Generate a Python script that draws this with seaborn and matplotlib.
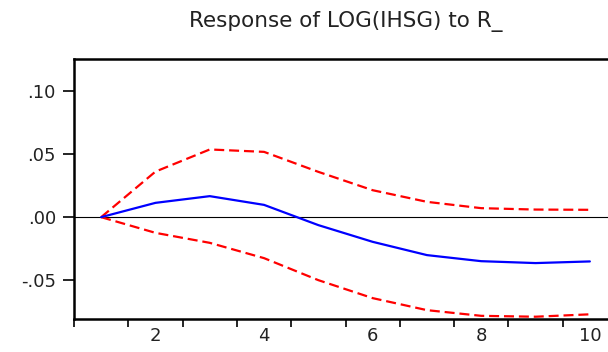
import matplotlib
matplotlib.use("Agg")
import matplotlib.pyplot as plt
import seaborn as sns
import pandas as pd

periods = [1, 2, 3, 4, 5, 6, 7, 8, 9, 10]
response = [0.0, 0.0113, 0.0166, 0.0097, -0.0063, -0.0195, -0.0300, -0.0348, -0.0363, -0.0350]
upper = [0.0, 0.0360, 0.0535, 0.0516, 0.0358, 0.0213, 0.0121, 0.0071, 0.0060, 0.0058]
lower = [0.0, -0.0124, -0.0203, -0.0324, -0.0498, -0.0640, -0.0735, -0.0780, -0.0787, -0.0768]
y_ticks = [0.10, 0.05, 0.00, -0.05]
y_tick_labels = [".10", ".05", ".00", "-.05"]
x_label_ticks = [2, 4, 6, 8, 10]
title = "Response of LOG(IHSG) to R_"

sns.set_style("white")
plt.rcParams["font.family"] = ["DejaVu Sans"]

df = pd.DataFrame({"period": periods, "response": response, "upper": upper, "lower": lower})

fig = plt.figure(figsize=(6.08, 3.52), dpi=100)
ax = fig.add_axes([74 / 608, 1 - 319 / 352, (617 - 74) / 608, (319 - 59) / 352])

ax.axhline(0, color="black", lw=0.8, zorder=1)
sns.lineplot(data=df, x="period", y="upper", ax=ax, color="#ff0000", lw=1.6,
             zorder=3).lines[-1].set_dashes([4.5, 2.2])
sns.lineplot(data=df, x="period", y="lower", ax=ax, color="#ff0000", lw=1.6,
             zorder=3).lines[-1].set_dashes([4.5, 2.2])
sns.lineplot(data=df, x="period", y="response", ax=ax, color="#0000ff", lw=1.6, zorder=4)

ax.set_xlim(0.5, 10.5)
ax.set_ylim(-0.0805, 0.125)

# boundary ticks (no labels) and centered labels (no tick marks)
ax.set_xticks([p + 0.5 for p in range(0, 11)])
ax.set_xticklabels([""] * 11)
ax.set_xticks(x_label_ticks, minor=True)
ax.set_xticklabels([str(v) for v in x_label_ticks], minor=True)
ax.tick_params(axis="x", which="major", direction="out", length=6, width=1.2, color="black", bottom=True)
ax.tick_params(axis="x", which="minor", length=0, labelsize=13, pad=6, labelcolor="#222222")

ax.set_yticks(y_ticks)
ax.set_yticklabels(y_tick_labels)
ax.tick_params(axis="y", direction="out", length=8, width=1.2, color="black", left=True,
               labelsize=13, pad=5, labelcolor="#222222")

for s in ax.spines.values():
    s.set_color("black")
    s.set_linewidth(1.8)

ax.set_xlabel("")
ax.set_ylabel("")
ax.set_title(title, fontsize=15.5, pad=23, color="#222222")

fig.savefig("out.png", dpi=100)
